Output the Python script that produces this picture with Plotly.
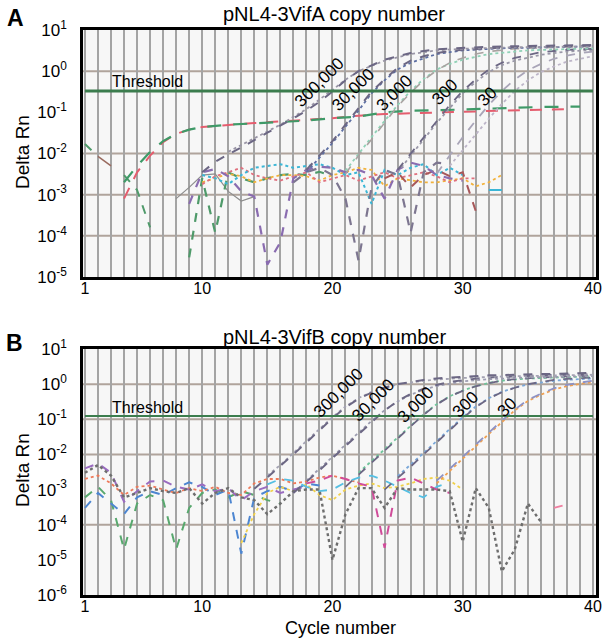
import math
import plotly.graph_objects as go
from plotly.subplots import make_subplots

# ======================= DATA =======================
a_title = "pNL4-3VifA copy number"
b_title = "pNL4-3VifB copy number"
copy_labels = ["300,000", "30,000", "3,000", "300", "30"]
x_label_cycles = [1, 10, 20, 30, 40]
a_y_exponents = [-5, -4, -3, -2, -1, 0, 1]
b_y_exponents = [-6, -5, -4, -3, -2, -1, 0, 1]
a_grid_exponents = [0, -2, -3, -4]
b_grid_exponents = [0, -1, -2, -4]

a_threshold = 0.33
b_threshold = 0.125

# ---- Panel A amplification curves ----
a_c_300000 = [10, 11, 12, 13, 14, 15, 16, 17, 18, 19, 20, 21, 22, 23, 24, 25, 26, 27, 28, 29, 30, 32, 35, 40]
a_rn_300000 = [0.0035, 0.0063, 0.0095, 0.014, 0.021, 0.032, 0.047, 0.071, 0.11, 0.18, 0.32, 0.60, 1.0, 1.4, 1.9, 2.3, 2.75, 3.1, 3.4, 3.55, 3.7, 3.9, 4.1, 4.3]
a_c_300000b = [12, 14, 16, 18, 19, 20, 21, 22, 23, 24, 26, 28, 30, 34, 40]
a_rn_300000b = [0.011, 0.024, 0.05, 0.12, 0.2, 0.35, 0.62, 1.0, 1.35, 1.8, 2.6, 3.2, 3.5, 3.8, 4.0]

a_c_30000 = [18, 19, 20, 21, 22, 23, 24, 25, 26, 27, 28, 29, 30, 32, 35, 40]
a_rn_30000 = [0.004, 0.0089, 0.02, 0.05, 0.126, 0.32, 0.63, 1.2, 1.8, 2.3, 2.75, 3.1, 3.3, 3.6, 3.9, 4.2]
a_c_30000b = [18, 19, 20, 21, 22, 23, 24, 25, 26, 28, 30, 33, 40]
a_rn_30000b = [0.0035, 0.008, 0.018, 0.045, 0.11, 0.29, 0.6, 1.1, 1.6, 2.6, 3.2, 3.6, 4.0]

a_c_3000 = [21, 22, 23, 24, 25, 26, 27, 28, 29, 30, 31, 32, 34, 37, 40]
a_rn_3000 = [0.0032, 0.0089, 0.022, 0.056, 0.14, 0.30, 0.60, 1.05, 1.6, 2.1, 2.6, 3.0, 3.5, 3.8, 4.0]
a_c_3000b = [21, 22, 23, 24, 25, 26, 27, 28, 29, 30, 32, 35, 40]
a_rn_3000b = [0.0038, 0.01, 0.025, 0.062, 0.15, 0.33, 0.65, 1.1, 1.5, 1.9, 2.6, 3.2, 3.6]

a_c_300 = [25, 26, 27, 28, 29, 30, 31, 32, 33, 34, 35, 36, 38, 40]
a_rn_300 = [0.004, 0.01, 0.025, 0.063, 0.15, 0.33, 0.63, 1.1, 1.6, 2.1, 2.5, 2.9, 3.3, 3.5]
a_c_300b = [25, 26, 27, 28, 29, 30, 31, 32, 33, 34, 36, 38, 40]
a_rn_300b = [0.0035, 0.009, 0.022, 0.055, 0.13, 0.29, 0.55, 0.95, 1.4, 1.8, 2.5, 3.0, 3.3]

a_c_30 = [28, 29, 30, 31, 32, 33, 34, 35, 36, 37, 38, 39, 40]
a_rn_30 = [0.0032, 0.0089, 0.025, 0.063, 0.15, 0.33, 0.63, 1.05, 1.5, 2.0, 2.4, 2.75, 3.0]
a_c_30b = [29, 30, 31, 32, 33, 34, 35, 36, 37, 38, 39, 40]
a_rn_30b = [0.005, 0.012, 0.03, 0.07, 0.16, 0.33, 0.6, 0.95, 1.3, 1.7, 2.0, 2.3]

# ---- Panel A early-plateau curves ----
a_c_red = [4, 5, 6, 7, 8, 9, 10, 12, 14, 16, 18, 20, 22, 24, 26, 28, 30, 33, 36, 38]
a_rn_red = [0.0008, 0.0035, 0.0089, 0.019, 0.03, 0.038, 0.044, 0.05, 0.055, 0.06, 0.066, 0.072, 0.083, 0.091, 0.095, 0.1, 0.105, 0.11, 0.115, 0.12]
a_c_green = [4, 5, 6, 7, 8, 9, 10, 12, 14, 16, 18, 20, 22, 24, 26, 28, 30, 33, 36, 39]
a_rn_green = [0.002, 0.005, 0.011, 0.02, 0.03, 0.038, 0.044, 0.05, 0.054, 0.058, 0.063, 0.072, 0.079, 0.1, 0.11, 0.112, 0.117, 0.126, 0.135, 0.138]

# ---- Panel A noise traces ----
a_c_early_green = [1, 2]
a_rn_early_green = [0.017, 0.0085]
a_c_early_brown = [2, 3]
a_rn_early_brown = [0.0085, 0.005]
a_c_dip_green = [4, 5, 6]
a_rn_dip_green = [0.003, 0.0013, 0.00016]

a_c_n_purple = list(range(9, 31))
a_rn_n_purple = [0.0006, 0.0035, 0.0042, 0.0028, 0.0012, 0.0009, 0.00002, 0.00007, 0.0025, 0.004, 0.0048, 0.0045, 0.0035, 0.004, 0.003, 0.0008, 0.004, 0.006, 0.005, 0.003, 0.0025, 0.0022]
a_c_n_graypurple = list(range(17, 30))
a_rn_n_graypurple = [0.002, 0.0035, 0.0045, 0.003, 0.0008, 0.000025, 0.0015, 0.004, 0.003, 0.00012, 0.0035, 0.006, 0.0055]
a_c_n_green = list(range(9, 21))
a_rn_n_green = [0.00003, 0.0025, 0.00012, 0.0035, 0.0025, 0.002, 0.0025, 0.003, 0.0032, 0.003, 0.0036, 0.0028]
a_c_n_cyan = list(range(10, 31))
a_rn_n_cyan = [0.003, 0.0025, 0.0018, 0.003, 0.0045, 0.005, 0.0055, 0.0045, 0.005, 0.0055, 0.0045, 0.003, 0.0035, 0.0006, 0.004, 0.003, 0.0045, 0.0055, 0.003, 0.0045, 0.003]
a_c_n_cyan2 = [32, 33]
a_rn_n_cyan2 = [0.0013, 0.0013]
a_c_n_orange = list(range(10, 34))
a_rn_n_orange = [0.002, 0.0025, 0.0032, 0.0028, 0.002, 0.0025, 0.003, 0.003, 0.0028, 0.0022, 0.003, 0.0035, 0.0045, 0.004, 0.0016, 0.0025, 0.0022, 0.002, 0.002, 0.0022, 0.0025, 0.0016, 0.002, 0.003]
a_c_n_pink = list(range(10, 32))
a_rn_n_pink = [0.0018, 0.0028, 0.0035, 0.0045, 0.003, 0.0025, 0.0022, 0.0028, 0.0035, 0.002, 0.0025, 0.003, 0.0022, 0.0028, 0.0035, 0.0025, 0.003, 0.0035, 0.0028, 0.002, 0.0025, 0.0025]
a_c_n_brown = list(range(24, 32))
a_rn_n_brown = [0.0025, 0.0035, 0.0015, 0.003, 0.004, 0.0028, 0.0035, 0.0004]
a_c_n_gray = list(range(8, 15))
a_rn_n_gray = [0.0008, 0.0015, 0.003, 0.0032, 0.0012, 0.0007, 0.0009]

# ---- Panel B amplification curves ----
b_c_300000 = [14, 15, 16, 17, 18, 19, 20, 21, 22, 23, 24, 25, 26, 27, 28, 29, 30, 32, 34, 36, 38, 40]
b_rn_300000 = [0.00105, 0.0022, 0.0045, 0.01, 0.022, 0.05, 0.107, 0.22, 0.38, 0.575, 0.79, 1.0, 1.17, 1.32, 1.45, 1.55, 1.62, 1.78, 1.86, 1.95, 2.04, 2.09]
b_c_300000b = [15, 16, 17, 18, 19, 20, 21, 22, 23, 24, 25, 26, 27, 28, 29, 30, 33, 36, 40]
b_rn_300000b = [0.0025, 0.005, 0.011, 0.024, 0.055, 0.115, 0.23, 0.4, 0.6, 0.8, 0.98, 1.12, 1.25, 1.35, 1.42, 1.5, 1.65, 1.75, 1.85]

b_c_30000 = [17, 18, 19, 20, 21, 22, 23, 24, 25, 26, 27, 28, 29, 30, 31, 32, 34, 36, 38, 40]
b_rn_30000 = [0.0008, 0.00166, 0.0035, 0.0079, 0.0174, 0.039, 0.085, 0.178, 0.33, 0.525, 0.74, 0.95, 1.15, 1.32, 1.45, 1.55, 1.7, 1.78, 1.86, 1.9]
b_c_30000b = [18, 19, 20, 21, 22, 23, 24, 25, 26, 27, 28, 29, 30, 32, 35, 40]
b_rn_30000b = [0.0018, 0.0038, 0.0085, 0.019, 0.042, 0.09, 0.18, 0.32, 0.5, 0.7, 0.88, 1.05, 1.2, 1.38, 1.55, 1.7]

b_c_3000 = [21, 22, 23, 24, 25, 26, 27, 28, 29, 30, 31, 32, 33, 34, 35, 36, 38, 40]
b_rn_3000 = [0.0012, 0.0026, 0.0056, 0.0126, 0.028, 0.063, 0.135, 0.263, 0.447, 0.646, 0.87, 1.07, 1.26, 1.38, 1.48, 1.55, 1.66, 1.74]
b_c_3000b = [22, 23, 24, 25, 26, 27, 28, 29, 30, 31, 32, 33, 35, 38, 40]
b_rn_3000b = [0.003, 0.0065, 0.014, 0.031, 0.068, 0.14, 0.27, 0.45, 0.66, 0.88, 1.08, 1.25, 1.45, 1.6, 1.68]

b_c_300 = [24, 25, 26, 27, 28, 29, 30, 31, 32, 33, 34, 35, 36, 37, 38, 39, 40]
b_rn_300 = [0.001, 0.0021, 0.0045, 0.01, 0.022, 0.05, 0.107, 0.22, 0.39, 0.59, 0.79, 1.0, 1.17, 1.32, 1.41, 1.48, 1.55]
b_c_300b = [25, 26, 27, 28, 29, 30, 31, 32, 33, 34, 35, 36, 37, 38, 40]
b_rn_300b = [0.0024, 0.005, 0.011, 0.024, 0.054, 0.115, 0.23, 0.4, 0.6, 0.8, 0.98, 1.12, 1.25, 1.33, 1.45]

b_c_30 = [28, 29, 30, 31, 32, 33, 34, 35, 36, 37, 38, 39, 40]
b_rn_30 = [0.0018, 0.0038, 0.0085, 0.019, 0.042, 0.091, 0.19, 0.355, 0.537, 0.76, 0.955, 1.12, 1.26]
b_c_30b = [28, 29, 30, 31, 32, 33, 34, 35, 36, 37, 38, 39, 40]
b_rn_30b = [0.0015, 0.0033, 0.0075, 0.017, 0.038, 0.085, 0.18, 0.33, 0.5, 0.7, 0.88, 1.02, 1.15]

# ---- Panel B noise traces ----
b_c_n_purple = list(range(1, 19))
b_rn_n_purple = [0.004, 0.0055, 0.003, 0.00045, 0.0009, 0.0017, 0.0018, 0.0012, 0.001, 0.0014, 0.0009, 0.0011, 0.0005, 0.0009, 0.0012, 0.0008, 0.001, 0.0012]
b_c_n_gray = list(range(1, 37))
b_rn_n_gray = [0.003, 0.005, 0.0025, 0.0006, 0.0008, 0.0011, 0.0009, 0.0008, 0.0011, 0.0004, 0.0008, 0.0011, 0.0006, 0.0005, 0.0002, 0.0004, 0.0009, 0.001, 0.001, 0.00001, 0.0002, 0.0011, 0.0011, 0.0003, 0.0011, 0.001, 0.001, 0.001, 0.0009, 0.000033, 0.0011, 0.0003, 0.0000047, 0.00002, 0.0004, 0.00012]
b_c_n_magenta = list(range(18, 30))
b_rn_n_magenta = [0.0015, 0.0018, 0.0025, 0.002, 0.0015, 0.0012, 0.000022, 0.0018, 0.0022, 0.0015, 0.001, 0.0008]
b_c_n_blue = list(range(1, 20))
b_rn_n_blue = [0.0003, 0.0008, 0.0004, 0.0002, 0.0006, 0.0009, 0.0007, 0.0011, 0.0016, 0.0012, 0.0007, 0.001, 0.000015, 0.0006, 0.0009, 0.0012, 0.0009, 0.0015, 0.0013]
b_c_n_green = list(range(1, 17))
b_rn_n_green = [0.0006, 0.0012, 0.0005, 0.00002, 0.0004, 0.0007, 0.0005, 0.00002, 0.0003, 0.0008, 0.001, 0.0006, 0.0009, 0.0007, 0.0005, 0.0004]
b_c_n_orange = list(range(1, 23))
b_rn_n_orange = [0.002, 0.0025, 0.0015, 0.0007, 0.0012, 0.0013, 0.001, 0.0008, 0.0011, 0.0009, 0.0012, 0.0008, 0.0007, 0.0015, 0.002, 0.002, 0.0015, 0.0017, 0.0022, 0.0025, 0.002, 0.0016]
b_c_n_yellow = list(range(13, 31))
b_rn_n_yellow = [0.00003, 0.0002, 0.0008, 0.0012, 0.0009, 0.0014, 0.0007, 0.0005, 0.001, 0.0013, 0.0015, 0.0011, 0.0012, 0.0015, 0.002, 0.0022, 0.0018, 0.001]
b_c_n_cyan = list(range(15, 30))
b_rn_n_cyan = [0.0014, 0.002, 0.0018, 0.0012, 0.0009, 0.001, 0.0016, 0.0022, 0.0025, 0.0018, 0.0012, 0.0008, 0.0006, 0.0012, 0.0016]
b_c_n_pink_end = [37, 38]
b_rn_n_pink_end = [0.0003, 0.00038]

# ======================= STYLE / LAYOUT =======================
FONT = "Liberation Sans, Arial, sans-serif"
AMP = "#6c6784"
AMP_LIGHT = "#a9a5b8"
GRID_X = "#a4a4a4"
GRID_Y = "#b0a49c"
THR = "#3c7d4e"
PLOT_BG = "#f7f7f7"

fig = make_subplots(rows=2, cols=1)


def add(row, xs, ys, color, dash="dash", width=1.8, opacity=1.0):
    fig.add_trace(go.Scatter(x=xs, y=ys, mode="lines",
                             line=dict(color=color, dash=dash, width=width),
                             opacity=opacity, hoverinfo="skip", showlegend=False),
                  row=row, col=1)


# Panel A
add(1, a_c_early_green, a_rn_early_green, "#4f9a6a", "dash", 2)
add(1, a_c_early_brown, a_rn_early_brown, "#9a6b5f", "solid", 1.5)
add(1, a_c_dip_green, a_rn_dip_green, "#4f9a6a", "dash", 2)
add(1, a_c_n_gray, a_rn_n_gray, "#8d8d8d", "solid", 1.2)
add(1, a_c_n_green, a_rn_n_green, "#4f9a6a", "dash", 2.2)
add(1, a_c_n_orange, a_rn_n_orange, "#f2b23c", "dot", 1.8)
add(1, a_c_n_pink, a_rn_n_pink, "#e0707e", "dot", 1.8)
add(1, a_c_n_cyan, a_rn_n_cyan, "#3bb6d6", "dot", 2)
add(1, a_c_n_cyan2, a_rn_n_cyan2, "#3bb6d6", "solid", 2)
add(1, a_c_n_brown, a_rn_n_brown, "#a8585a", "dash", 2)
add(1, a_c_n_purple, a_rn_n_purple, "#8a6cb0", "dash", 2.2)
add(1, a_c_n_graypurple, a_rn_n_graypurple, "#7d7690", "dash", 2.2)
add(1, a_c_red, a_rn_red, "#e45d6e", "12px,10px", 2)
add(1, a_c_green, a_rn_green, "#3f9a68", "14px,12px", 2.2)
add(1, a_c_30b, a_rn_30b, "#bdb5c8", "dot", 1.8)
add(1, a_c_30, a_rn_30, AMP_LIGHT, "dash", 1.8)
add(1, a_c_300b, a_rn_300b, "#9a98a8", "dot", 1.8)
add(1, a_c_300, a_rn_300, AMP, "dash", 1.8)
add(1, a_c_3000b, a_rn_3000b, "#8fd1b6", "dot", 1.8)
add(1, a_c_3000, a_rn_3000, "#a8a2a0", "dash", 1.6)
add(1, a_c_30000b, a_rn_30000b, "#5d6fa3", "dot", 1.8)
add(1, a_c_30000, a_rn_30000, AMP, "dash", 2)
add(1, a_c_300000b, a_rn_300000b, "#9a96a6", "dot", 1.8)
add(1, a_c_300000, a_rn_300000, AMP, "dash", 2)
add(1, [1, 40], [a_threshold, a_threshold], THR, "solid", 3)

# Panel B
add(2, b_c_n_green, b_rn_n_green, "#58a86e", "dash", 2)
add(2, b_c_n_blue, b_rn_n_blue, "#4d86d1", "dash", 2)
add(2, b_c_n_orange, b_rn_n_orange, "#ee7a5a", "dot", 1.8)
add(2, b_c_n_yellow, b_rn_n_yellow, "#f0d04a", "dot", 1.8)
add(2, b_c_n_cyan, b_rn_n_cyan, "#55bfe3", "dash", 1.8)
add(2, b_c_n_purple, b_rn_n_purple, "#9a6cc0", "dash", 2)
add(2, b_c_n_magenta, b_rn_n_magenta, "#d04c9a", "dash", 2)
add(2, b_c_n_gray, b_rn_n_gray, "#6e6e6e", "dot", 2.4)
add(2, b_c_n_pink_end, b_rn_n_pink_end, "#ef7fa0", "dash", 1.8)
add(2, b_c_30b, b_rn_30b, "#f0a050", "dot", 1.8)
add(2, b_c_30, b_rn_30, "#8e92c4", "dash", 1.8)
add(2, b_c_300b, b_rn_300b, "#7aa7d8", "dot", 1.8)
add(2, b_c_300, b_rn_300, AMP, "dash", 1.8)
add(2, b_c_3000b, b_rn_3000b, "#6fc39a", "dot", 1.8)
add(2, b_c_3000, b_rn_3000, AMP, "dash", 1.8)
add(2, b_c_30000b, b_rn_30000b, "#9c9cb0", "dot", 1.8)
add(2, b_c_30000, b_rn_30000, AMP, "dash", 2)
add(2, b_c_300000b, b_rn_300000b, "#a4a3b3", "dot", 1.8)
add(2, b_c_300000, b_rn_300000, AMP, "dash", 2)
add(2, [1, 40], [b_threshold, b_threshold], THR, "solid", 2)

all_cycles = list(range(1, 41))
x_common = dict(range=[0.85, 40.23], tickvals=all_cycles,
                ticktext=[str(c) if c in x_label_cycles else "" for c in all_cycles],
                showgrid=True, gridcolor=GRID_X, gridwidth=2,
                showline=True, linecolor="black", linewidth=2.5, mirror=True,
                ticks="", zeroline=False, ticklabelstandoff=-5,
                tickfont=dict(size=16, color="black", family=FONT))


def y_axis(exps, dom):
    return dict(type="log", range=[exps[0], exps[-1]], domain=dom,
                tickvals=[10.0 ** e for e in exps],
                ticktext=["10<sup>%d</sup>" % e for e in exps],
                showgrid=False,
                showline=True, linecolor="black", linewidth=2.5, mirror=True,
                ticks="", zeroline=False, ticklabelstandoff=10,
                tickfont=dict(size=17, color="black", family=FONT))


# plot-area background + horizontal grid lines (only at the decades that show one
# in the reference), placed by fraction of the log axis span
shapes = []
for xr, yr, exps, grid in (("x", "y", a_y_exponents, a_grid_exponents),
                           ("x2", "y2", b_y_exponents, b_grid_exponents)):
    shapes.append(dict(type="rect", xref=xr + " domain", yref=yr + " domain",
                       x0=0, x1=1, y0=0, y1=1, fillcolor=PLOT_BG,
                       line=dict(width=0), layer="below"))
    span = exps[-1] - exps[0]
    for e in grid:
        frac = (e - exps[0]) / span
        shapes.append(dict(type="line", xref=xr + " domain", yref=yr + " domain",
                           x0=0, x1=1, y0=frac, y1=frac,
                           line=dict(color=GRID_Y, width=2), layer="below"))

fig.update_layout(
    width=614, height=644,
    margin=dict(l=83, r=18, t=30, b=49),
    plot_bgcolor="rgba(0,0,0,0)", paper_bgcolor="white",
    showlegend=False, hovermode=False,
    xaxis=dict(x_common, domain=[0, 1]),
    xaxis2=dict(x_common, domain=[0, 1]),
    yaxis=y_axis(a_y_exponents, [0.5628, 1.0]),
    yaxis2=y_axis(b_y_exponents, [0.0, 0.4354]),
    shapes=shapes,
)

ann = []
a_label_pos = [(19.0, 0.52), (21.6, 0.36), (24.8, 0.30), (28.6, 0.30), (31.9, 0.24)]
b_label_pos = [(20.5, 0.56), (23.1, 0.35), (26.4, 0.27), (30.2, 0.27), (33.4, 0.21)]
for txt, (cx, cy) in zip(copy_labels, a_label_pos):
    ann.append(dict(x=cx, y=math.log10(cy), xref="x", yref="y", text=txt, showarrow=False,
                    xanchor="center", yanchor="middle",
                    textangle=-45, font=dict(size=17, color="black", family=FONT)))
for txt, (cx, cy) in zip(copy_labels, b_label_pos):
    ann.append(dict(x=cx, y=math.log10(cy), xref="x2", yref="y2", text=txt, showarrow=False,
                    xanchor="center", yanchor="middle",
                    textangle=-45, font=dict(size=17, color="black", family=FONT)))
ann.append(dict(x=2.9, y=math.log10(0.55), xref="x", yref="y", text="Threshold", showarrow=False,
                xanchor="left", yanchor="middle", font=dict(size=16, color="black", family=FONT)))
ann.append(dict(x=2.9, y=math.log10(0.21), xref="x2", yref="y2", text="Threshold", showarrow=False,
                xanchor="left", yanchor="middle", font=dict(size=16, color="black", family=FONT)))


def paper_text(x, y, text, size, angle=0):
    ann.append(dict(x=x, y=y, xref="paper", yref="paper", text=text, showarrow=False,
                    xanchor="center", yanchor="middle", textangle=angle,
                    font=dict(size=size, color="black", family=FONT)))


paper_text(0.49, 1.028, a_title, 20)
paper_text(0.49, 0.4566, b_title, 20)
paper_text(-0.131, 1.021, "<b>A</b>", 23)
paper_text(-0.133, 0.446, "<b>B</b>", 23)
paper_text(-0.119, 0.784, "Delta Rn", 19, -90)
paper_text(-0.119, 0.221, "Delta Rn", 19, -90)
paper_text(0.501, -0.059, "Cycle number", 18)
fig.update_layout(annotations=ann)

# remove the default 8px page margin so the 614x644 figure fills the window exactly
fig.write_html("out.html", config={"displayModeBar": False},
               post_script="document.body.style.margin='0';document.body.style.overflow='hidden';")
